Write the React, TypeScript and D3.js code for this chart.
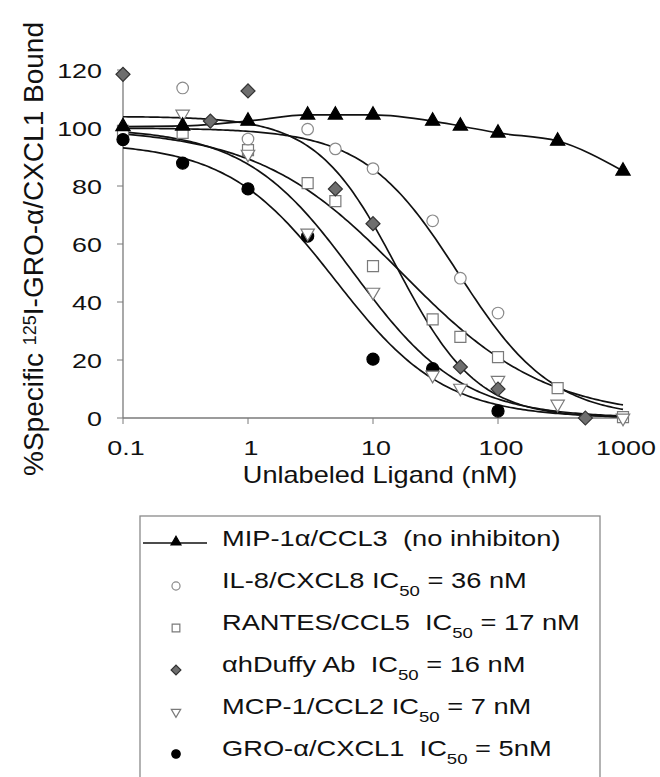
import React from 'react';
import * as d3 from 'd3';

// concentrations (nM) and % specific binding
const mipDose = [0.1, 0.3, 1, 3, 5, 10, 30, 50, 100, 300, 1000];
const mipBound = [100.5, 100.7, 102.4, 104.5, 104.5, 104.5, 102.4, 100.7, 98.3, 95.5, 85.2];

const il8Dose = [0.3, 1, 3, 5, 10, 30, 50, 100];
const il8Bound = [113.8, 96.2, 99.6, 92.8, 86, 68, 48.2, 36.2];

const rantesDose = [0.1, 0.3, 1, 3, 5, 10, 30, 50, 100, 300, 1000];
const rantesBound = [99, 98.3, 92.4, 81, 74.8, 52.4, 34, 28, 21, 10.3, 0.3];

const duffyDose = [0.1, 0.5, 1, 5, 10, 50, 100, 500];
const duffyBound = [118.5, 102.4, 112.8, 79, 67, 17.6, 10, 0];

const mcpDose = [0.3, 1, 3, 10, 30, 50, 100, 300, 1000];
const mcpBound = [104.8, 91, 63.8, 43.4, 14.8, 10.3, 13, 4.8, 0];

const groDose = [0.1, 0.3, 1, 3, 10, 30, 100];
const groBound = [96, 87.9, 79, 62.7, 20.3, 17, 2.4];

// sigmoidal fit parameters (top, IC50, hill) for the inhibition curves
const fitNames = ['il8', 'rantes', 'duffy', 'mcp', 'gro'];
const fitTop = [100, 100, 104, 100, 95];
const fitIC50 = [48, 17, 15.5, 7, 5];
const fitHill = [1.15, 0.75, 1.35, 1.0, 1.0];

const xTicks = [0.1, 1, 10, 100, 1000];
const xTickLabels = ['0.1', '1', '10', '100', '1000'];
const yTicks = [0, 20, 40, 60, 80, 100, 120];

const legendMain = [
  'MIP-1\u03b1/CCL3  (no inhibiton)',
  'IL-8/CXCL8 IC',
  'RANTES/CCL5  IC',
  '\u03b1hDuffy Ab  IC',
  'MCP-1/CCL2 IC',
  'GRO-\u03b1/CXCL1  IC',
];
const legendSub = ['', '50', '50', '50', '50', '50'];
const legendRest = ['', ' = 36 nM', ' = 17 nM', ' = 16 nM', ' = 7 nM', ' = 5nM'];
const legendKeys = ['mip', 'il8', 'rantes', 'duffy', 'mcp', 'gro'];

const FONT = '"Liberation Sans", Arial, Helvetica, sans-serif';

const x = d3.scaleLog().domain([0.1, 1000]).range([123, 623]);
const y = d3.scaleLinear().domain([0, 120]).range([418, 70]);

const zip = (dose, bound) => dose.map((d, i) => ({ d, v: bound[i] }));

const markerStyle = {
  mip: { type: d3.symbolTriangle, size: 88, fill: '#000', stroke: '#000', rot: 0 },
  il8: { type: d3.symbolCircle, size: 105, fill: '#fff', stroke: '#8a8a8a', rot: 0 },
  rantes: { type: d3.symbolSquare, size: 121, fill: '#fff', stroke: '#7a7a7a', rot: 0 },
  duffy: { type: d3.symbolSquare, size: 98, fill: '#6e6e6e', stroke: '#333', rot: 45 },
  mcp: { type: d3.symbolTriangle, size: 78, fill: '#fff', stroke: '#7a7a7a', rot: 180 },
  gro: { type: d3.symbolCircle, size: 115, fill: '#000', stroke: '#000', rot: 0 },
};

const Marker = ({ k, cx, cy, scale = 1 }) => {
  const s = markerStyle[k];
  const d = d3.symbol().type(s.type).size(s.size * scale * scale)();
  return (
    <path
      d={d}
      transform={`translate(${cx},${cy}) rotate(${s.rot})`}
      fill={s.fill}
      stroke={s.stroke}
      strokeWidth={1.2}
    />
  );
};

const STxt = ({ tx, ty, sx = 1, anchor = 'start', size, children }) => (
  <text
    transform={`translate(${tx},${ty}) scale(${sx},1)`}
    textAnchor={anchor}
    fontSize={size}
    fontFamily={FONT}
    fill="#111"
    style={{ whiteSpace: 'pre' }}
  >
    {children}
  </text>
);

export default function App() {
  const samples = d3.range(0, 201).map((i) => 0.1 * Math.pow(10, (4 * i) / 200));
  const line = d3
    .line()
    .x((p) => x(p.d))
    .y((p) => y(p.v));

  const fitPaths = fitNames.map((n, i) =>
    line(samples.map((c) => ({ d: c, v: fitTop[i] / (1 + Math.pow(c / fitIC50[i], fitHill[i])) })))
  );
  const mipPath = d3
    .line()
    .x((p) => x(p.d))
    .y((p) => y(p.v))
    .curve(d3.curveMonotoneX)(zip(mipDose, mipBound));

  const series = [
    { k: 'rantes', pts: zip(rantesDose, rantesBound) },
    { k: 'il8', pts: zip(il8Dose, il8Bound) },
    { k: 'gro', pts: zip(groDose, groBound) },
    { k: 'mcp', pts: zip(mcpDose, mcpBound) },
    { k: 'duffy', pts: zip(duffyDose, duffyBound) },
    { k: 'mip', pts: zip(mipDose, mipBound) },
  ];

  const axisColor = '#7a7a7a';
  const rowY = (i) => 546 + i * 42;

  return (
    <svg
      width={660}
      height={777}
      style={{ position: 'absolute', left: 0, top: 0, background: '#fff' }}
    >
      {/* axes */}
      <line x1={x(0.1)} x2={x(1000)} y1={y(0)} y2={y(0)} stroke={axisColor} strokeWidth={1.3} />
      <line x1={x(0.1)} x2={x(0.1)} y1={y(0)} y2={y(120)} stroke={axisColor} strokeWidth={1.3} />
      {yTicks.map((t) => (
        <g key={'y' + t}>
          <line x1={x(0.1) - 6} x2={x(0.1)} y1={y(t)} y2={y(t)} stroke={axisColor} strokeWidth={1} />
          <STxt tx={102} ty={y(t) + 7.5} sx={1.28} anchor="end" size={21}>
            {String(t)}
          </STxt>
        </g>
      ))}
      {xTicks.map((t, i) => (
        <g key={'x' + t}>
          <line x1={x(t)} x2={x(t)} y1={y(0)} y2={y(0) + 6} stroke={axisColor} strokeWidth={1} />
          <STxt tx={x(t) + 3} ty={455} sx={1.28} anchor="middle" size={21}>
            {xTickLabels[i]}
          </STxt>
        </g>
      ))}

      <STxt tx={380} ty={483} sx={1.18} anchor="middle" size={23}>
        Unlabeled Ligand (nM)
      </STxt>

      <text
        transform="translate(43,249) rotate(-90)"
        textAnchor="middle"
        fontSize={28}
        fontFamily={FONT}
        fill="#111"
      >
        <tspan>%Specific </tspan>
        <tspan fontSize={18} dy={-7}>125</tspan>
        <tspan dy={7}>I-GRO-</tspan>
        <tspan>{'\u03b1'}</tspan>
        <tspan>/CXCL1 Bound</tspan>
      </text>

      {/* curves */}
      <path d={mipPath} fill="none" stroke="#111" strokeWidth={1.7} />
      {fitPaths.map((d, i) => (
        <path key={fitNames[i]} d={d} fill="none" stroke="#111" strokeWidth={1.7} />
      ))}

      {/* data points */}
      {series.map((s) =>
        s.pts.map((p, j) => <Marker key={s.k + j} k={s.k} cx={x(p.d)} cy={y(p.v)} />)
      )}

      {/* legend */}
      <rect x={140} y={516} width={460} height={300} fill="none" stroke="#8a8a8a" strokeWidth={1.3} />
      <line x1={143} x2={207} y1={543} y2={543} stroke="#111" strokeWidth={1.5} />
      {legendKeys.map((k, i) => (
        <g key={'lg' + k}>
          <Marker k={k} cx={176} cy={k === 'mip' ? 542 : rowY(i) - 2} scale={0.7} />
          <STxt tx={222} ty={rowY(i)} sx={1.24} size={22}>
            <tspan>{legendMain[i]}</tspan>
            {legendSub[i] && (
              <tspan fontSize={15} dy={8}>
                {legendSub[i]}
              </tspan>
            )}
            {legendRest[i] && <tspan dy={-8}>{legendRest[i]}</tspan>}
          </STxt>
        </g>
      ))}
    </svg>
  );
}
